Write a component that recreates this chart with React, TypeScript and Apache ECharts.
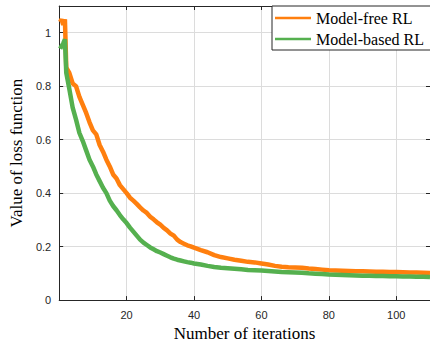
import React, { useEffect, useRef } from "react";
import * as echarts from "echarts";

const iterations = [
  0.3, 0.7, 1.2, 1.7, 2.1,
  3, 4, 5, 6, 7, 8, 9, 10, 11, 12, 13, 14, 15, 16, 17, 18, 19, 20,
  21, 22, 23, 24, 25, 26, 27, 28, 29, 30, 31, 32, 33, 34, 35, 36, 37, 38, 39, 40,
  42, 44, 46, 48, 50, 52, 54, 56, 58, 60, 62, 64, 66, 68, 70, 72, 74, 76, 78, 80,
  82, 84, 86, 88, 90, 92, 94, 96, 98, 100, 102, 104, 106, 108, 110,
];

const modelFree = [
  1.04, 1.05, 1.03, 1.05, 0.87,
  0.85, 0.81, 0.8, 0.76, 0.73, 0.7, 0.665, 0.635, 0.62, 0.58, 0.555, 0.525, 0.5, 0.47, 0.455, 0.43, 0.415, 0.4,
  0.383, 0.372, 0.36, 0.347, 0.335, 0.326, 0.312, 0.302, 0.291, 0.282, 0.27, 0.261, 0.249, 0.241, 0.226, 0.217, 0.211, 0.205, 0.201, 0.196,
  0.187, 0.179, 0.168, 0.161, 0.156, 0.151, 0.147, 0.143, 0.141, 0.137, 0.133, 0.128, 0.125, 0.123, 0.122, 0.121, 0.118, 0.116, 0.114, 0.112,
  0.111, 0.11, 0.109, 0.108, 0.108, 0.107, 0.106, 0.106, 0.105, 0.105, 0.104, 0.103, 0.103, 0.102, 0.101,
];

const modelBased = [
  0.94, 0.95, 0.96, 0.975, 0.85,
  0.79, 0.72, 0.675, 0.625, 0.595, 0.56, 0.525, 0.5, 0.47, 0.445, 0.42, 0.4, 0.372, 0.352, 0.336, 0.318, 0.302, 0.288,
  0.271, 0.256, 0.241, 0.226, 0.215, 0.206, 0.197, 0.19, 0.183, 0.178, 0.172, 0.166, 0.16, 0.155, 0.151, 0.148, 0.145, 0.142, 0.14, 0.137,
  0.133, 0.128, 0.124, 0.121, 0.119, 0.117, 0.115, 0.113, 0.112, 0.111, 0.109, 0.107, 0.105, 0.104, 0.103, 0.102, 0.1, 0.099, 0.098, 0.096,
  0.095, 0.094, 0.093, 0.092, 0.091, 0.091, 0.09, 0.09, 0.089, 0.089, 0.088, 0.088, 0.087, 0.087, 0.086,
];

const seriesNames = ["Model-free RL", "Model-based RL"];
const colors = ["#ff7f0e", "#55b04f"];

const SANS = "'Liberation Sans', Arial, sans-serif";
const SERIF = "'Liberation Serif', 'Times New Roman', serif";
const AXIS = "#262626";
const GRID = "#dcdcdc";

export default function App() {
  const ref = useRef<HTMLDivElement>(null);
  useEffect(() => {
    if (!ref.current) return;
    const chart = echarts.init(ref.current, null, { renderer: "svg" });
    const xCommon = {
      type: "value" as const,
      min: 0,
      max: 110,
      interval: 20,
    };
    const yCommon = {
      type: "value" as const,
      min: 0,
      max: 1.1,
      interval: 0.2,
    };
    chart.setOption({
      animation: false,
      backgroundColor: "#ffffff",
      grid: { left: 51, top: 6, width: 381, height: 299, containLabel: false },
      legend: {
        orient: "vertical",
        left: 272,
        top: 6,
        data: seriesNames,
        icon: "rect",
        itemWidth: 36,
        itemHeight: 2.5,
        itemGap: 5,
        padding: [4, 10, 3, 3],
        borderColor: "#262626",
        borderWidth: 1,
        backgroundColor: "#ffffff",
        textStyle: { fontFamily: SERIF, fontSize: 16, color: "#000" },
      },
      xAxis: [
        {
          ...xCommon,
          position: "bottom",
          name: "Number of iterations",
          nameLocation: "middle",
          nameGap: 24,
          nameTextStyle: { fontFamily: SERIF, fontSize: 17, color: "#000" },
          axisLine: { show: true, onZero: false, lineStyle: { color: AXIS, width: 1 } },
          axisTick: { show: true, inside: true, length: 4, lineStyle: { color: AXIS } },
          axisLabel: {
            fontFamily: SANS,
            fontSize: 11,
            color: AXIS,
            margin: 9,
            showMaxLabel: false,
            formatter: (v: number) => (v === 0 || v > 100 ? "" : String(v)),
          },
          splitLine: { show: true, lineStyle: { color: GRID, width: 1 } },
        },
        {
          ...xCommon,
          position: "top",
          axisLine: { show: true, onZero: false, lineStyle: { color: AXIS, width: 1 } },
          axisTick: { show: true, inside: true, length: 4, lineStyle: { color: AXIS } },
          axisLabel: { show: false },
          splitLine: { show: false },
        },
      ],
      yAxis: [
        {
          ...yCommon,
          position: "left",
          name: "Value of loss function",
          nameLocation: "middle",
          nameGap: 28,
          nameTextStyle: { fontFamily: SERIF, fontSize: 17, color: "#000" },
          axisLine: { show: true, onZero: false, lineStyle: { color: AXIS, width: 1 } },
          axisTick: { show: true, inside: true, length: 4, lineStyle: { color: AXIS } },
          axisLabel: {
            fontFamily: SANS,
            fontSize: 11,
            color: AXIS,
            margin: 8,
            showMaxLabel: false,
            formatter: (v: number) => (v > 1.05 ? "" : String(Math.round(v * 10) / 10)),
          },
          splitLine: { show: true, lineStyle: { color: GRID, width: 1 } },
        },
        {
          ...yCommon,
          position: "right",
          axisLine: { show: true, onZero: false, lineStyle: { color: AXIS, width: 1 } },
          axisTick: { show: true, inside: true, length: 4, lineStyle: { color: AXIS } },
          axisLabel: { show: false },
          splitLine: { show: false },
        },
      ],
      series: [
        {
          name: seriesNames[0],
          type: "line",
          xAxisIndex: 0,
          yAxisIndex: 0,
          data: iterations.map((x, i) => [x, modelFree[i]]),
          showSymbol: false,
          symbol: "none",
          lineStyle: { color: colors[0], width: 4.5 },
          itemStyle: { color: colors[0] },
          z: 2,
        },
        {
          name: seriesNames[1],
          type: "line",
          xAxisIndex: 0,
          yAxisIndex: 0,
          data: iterations.map((x, i) => [x, modelBased[i]]),
          showSymbol: false,
          symbol: "none",
          lineStyle: { color: colors[1], width: 4.5 },
          itemStyle: { color: colors[1] },
          z: 3,
        },
      ],
    });
    return () => chart.dispose();
  }, []);
  return (
    <div
      ref={ref}
      style={{ position: "fixed", left: 0, top: 0, width: 430, height: 347 }}
    />
  );
}
